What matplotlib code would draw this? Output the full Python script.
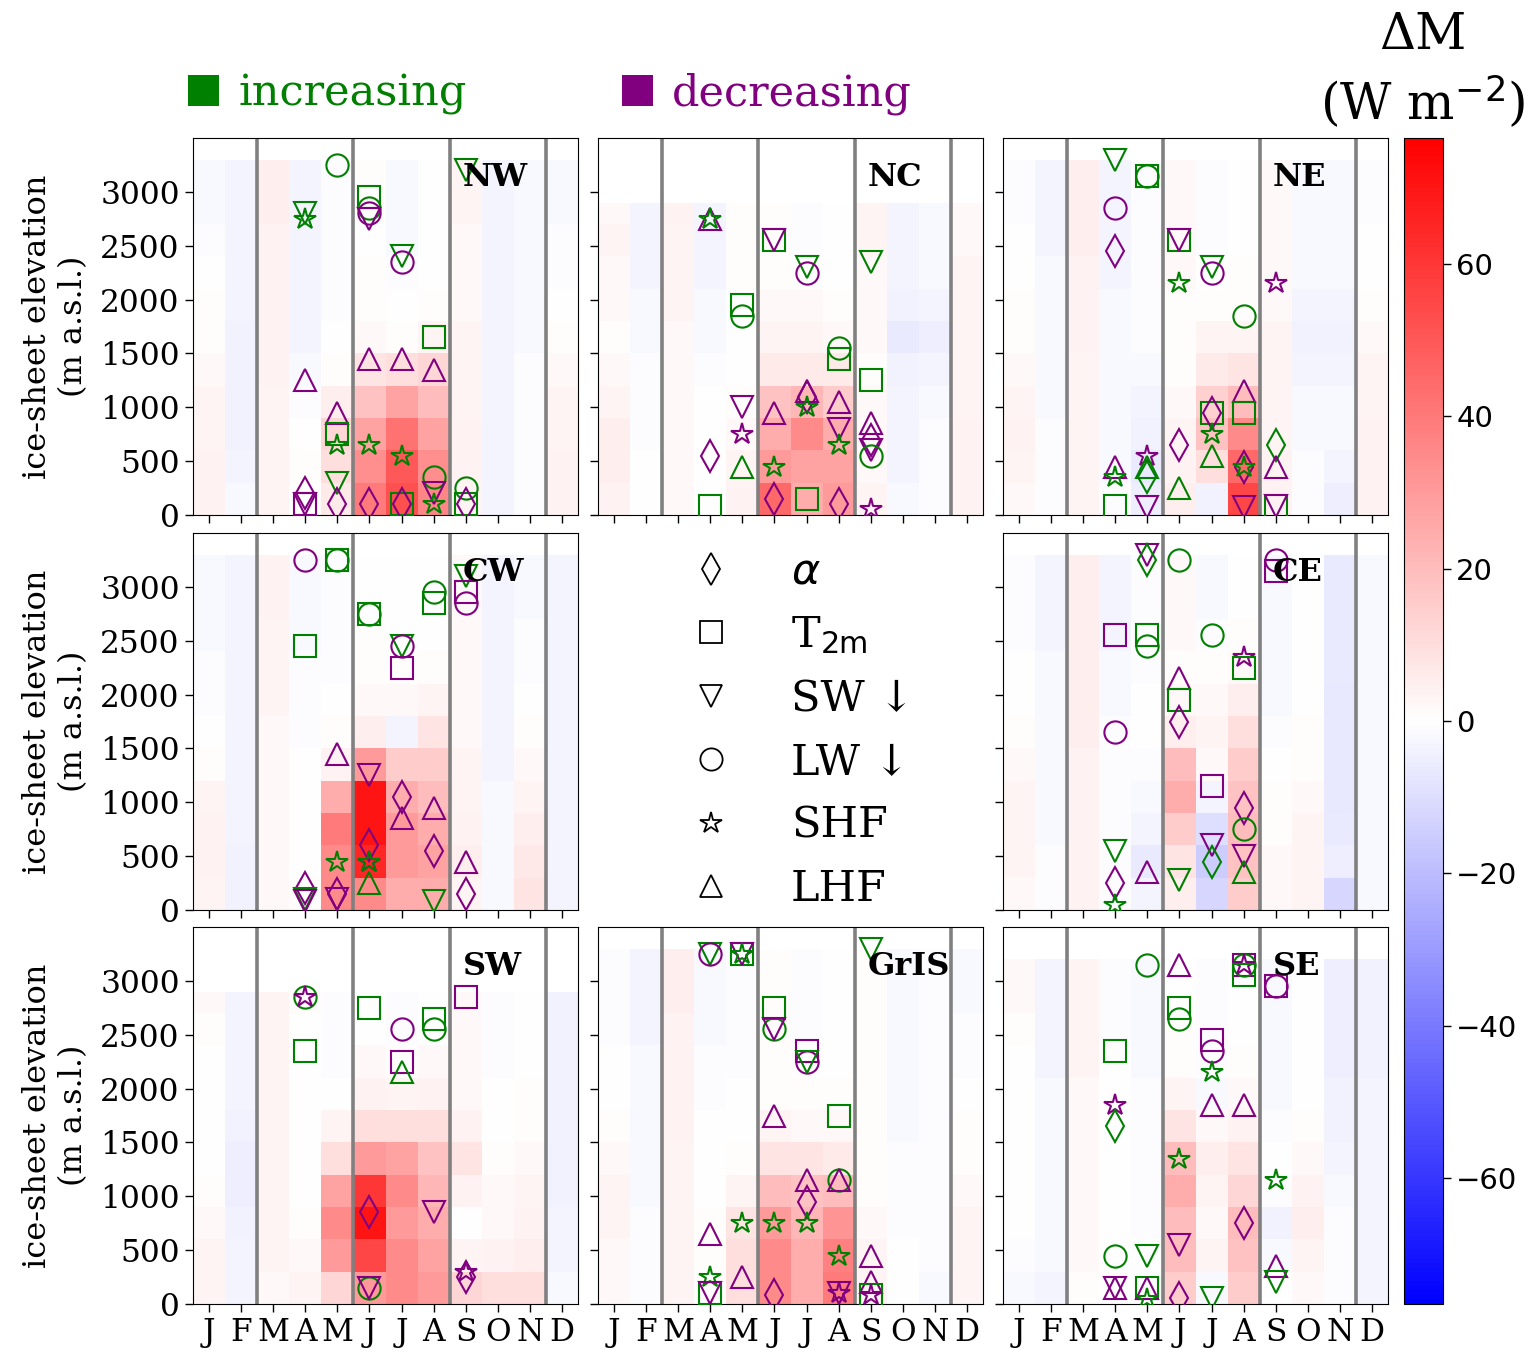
import numpy as np
import matplotlib
matplotlib.use("Agg")
import matplotlib.pyplot as plt
from matplotlib.lines import Line2D
from matplotlib.patches import Patch
from matplotlib.font_manager import FontProperties

plt.rcParams["font.family"] = ["DejaVu Serif", "DejaVu Sans"]
plt.rcParams["mathtext.fontset"] = "dejavusans"

months = ["J", "F", "M", "A", "M", "J", "J", "A", "S", "O", "N", "D"]
regions = ["NW", "NC", "NE", "CW", "CE", "SW", "GrIS", "SE"]
band_edges = [0, 300, 600, 900, 1200, 1500, 1800, 2100, 2400, 2700]
tops = [3300, 2900, 3300, 3300, 3300, 2900, 3300, 3200]

# Delta M per month (12 lists), each list = bands bottom -> top (W m-2)
nw_dm = [[4, 4, 3, 3, 2, 1, 1, 0, -1, -2], [-2, -3, -4, -4, -4, -4, -3, -3, -3, -3],
         [3, 3, 3, 3, 4, 4, 4, 4, 4, 5], [0, 1, 0, -1, -2, -3, -3, -3, -3, -3],
         [6, 10, 12, 5, 1, 0, -1, -1, -1, -1], [40, 34, 28, 18, 8, 2, 1, 1, 0, 1],
         [52, 50, 42, 28, 10, 1, 0, -1, -2, -2], [36, 34, 28, 20, 12, 3, 1, 0, 0, 0],
         [3, 4, 4, 3, 3, 3, 2, 2, 2, 3], [-3, -3, -3, -3, -3, -3, -3, -3, -3, -3],
         [-1, -1, -1, -1, -1, -2, -2, -2, -2, -2], [4, 4, 3, 3, 2, 1, 0, -1, -1, -2]]
nc_dm = [[4, 5, 5, 3, 2, 1, 2, 2, 3, 2], [0, 0, -1, -1, -1, -2, -2, -3, -3, -3],
         [2, 2, 2, 2, 2, 2, 3, 3, 3, 4], [0, 0, 0, 0, -1, -2, -2, -3, -3, -3],
         [4, 3, 2, 1, 0, 0, 0, 1, 1, 1], [45, 30, 25, 18, 6, 3, 2, 1, 1, 1],
         [25, 28, 35, 22, 6, 3, 2, 0, -1, -1], [30, 28, 25, 15, 6, 2, 1, 0, 0, 0],
         [3, 2, 2, 2, 1, 2, 2, 2, 3, 3], [-2, -3, -3, -3, -4, -6, -4, -3, -3, -3],
         [-1, -1, -1, -2, -3, -5, -3, -2, -2, -2], [4, 4, 4, 3, 3, 3, 3, 3, 2, 2]]
ne_dm = [[2, 3, 4, 3, 2, 1, 1, 0, 0, -1], [-1, -1, -1, -2, -2, -2, -2, -2, -3, -3],
         [3, 3, 3, 3, 3, 4, 4, 4, 5, 5], [-1, -2, -2, -2, -2, -2, -2, -3, -3, -3],
         [-5, -6, -4, -3, -2, -1, -1, -1, -1, -1], [5, 4, 3, 2, 1, 1, 1, 2, 2, 2],
         [-4, 10, 18, 14, 6, 3, 1, 0, -1, -1], [55, 45, 35, 20, 8, 3, 1, 1, 0, 0],
         [4, 4, 3, 3, 3, 3, 2, 2, 2, 2], [-1, -1, -2, -2, -3, -4, -3, -2, -2, -2],
         [-5, -3, -2, -2, -3, -4, -3, -2, -2, -2], [4, 4, 4, 3, 3, 2, 1, 0, 0, -1]]
cw_dm = [[3, 4, 4, 3, 1, 0, -1, -1, -2, -2], [-4, -4, -3, -3, -3, -3, -3, -3, -3, -3],
         [2, 2, 2, 2, 2, 2, 3, 3, 3, 4], [1, 0, 0, 0, 0, -1, -1, -1, -2, -2],
         [35, 35, 40, 25, 4, 1, 0, -1, -1, -1], [35, 65, 70, 70, 30, 5, 2, 1, 1, 0],
         [25, 30, 30, 25, 15, -3, 2, 1, 0, 0], [25, 28, 25, 20, 15, 8, 3, 1, 0, 0],
         [3, 5, 4, 3, 3, 2, 2, 2, 2, 2], [-2, -2, -2, -2, -3, -3, -3, -3, -3, -3],
         [8, 7, 5, 3, 2, 1, 0, -1, -1, -2], [-3, -3, -3, -3, -3, -3, -3, -3, -3, -3]]
ce_dm = [[2, 3, 3, 3, 2, 1, 0, 0, -1, -1], [-1, -1, -2, -2, -2, -2, -2, -2, -3, -3],
         [4, 4, 4, 4, 4, 5, 5, 5, 5, 5], [-1, -1, -1, -1, -1, -1, -2, -2, -3, -3],
         [-3, -6, -3, -2, -1, 0, 0, -1, -1, -1], [5, 8, 15, 25, 20, 5, 2, 1, 2, 2],
         [-12, -15, -10, -3, 2, 3, 2, 1, -1, -2], [15, 18, 20, 18, 15, 10, 5, 2, 1, 0],
         [2, 2, 1, 1, 0, -1, -2, -2, -2, -2], [3, 3, 3, 2, 1, 1, 0, 0, 0, 0],
         [-12, -5, -6, -7, -7, -7, -7, -6, -6, -6], [-2, -2, -2, -2, -2, -2, -2, -2, -2, -2]]
sw_dm = [[3, 3, 2, 1, 0, 0, 0, 0, 1, 2], [-3, -3, -4, -5, -5, -4, -3, -3, -3, -3],
         [2, 3, 3, 3, 3, 3, 3, 3, 3, 3], [3, 2, 1, 0, 0, 0, 0, 0, 0, 1],
         [12, 30, 35, 28, 10, 3, 0, -1, -1, -1], [30, 55, 70, 60, 30, 10, 4, 2, 0, 0],
         [35, 35, 30, 35, 28, 10, 3, 1, -1, -1], [30, 28, 25, 22, 18, 10, 4, 2, 0, 0],
         [12, 3, 0, 4, 8, 4, 2, 2, 2, 2], [10, 4, 2, 2, 1, 0, 0, -1, -1, -1],
         [10, 5, 4, 3, 2, 1, 1, 0, 0, 0], [-2, -3, -3, -4, -4, -4, -4, -4, -4, -4]]
gris_dm = [[2, 2, 3, 3, 2, 1, 0, 0, -1, -1], [-1, -1, -1, -2, -2, -2, -2, -2, -3, -3],
           [3, 3, 3, 3, 3, 4, 4, 4, 4, 5], [1, 1, 1, 0, 0, 0, -1, -1, -2, -2],
           [10, 10, 8, 3, 1, 0, 0, -1, -1, -1], [35, 35, 30, 20, 8, 3, 1, 1, 1, 1],
           [25, 25, 22, 18, 8, 2, 1, 0, -1, -1], [40, 38, 32, 20, 6, 2, 1, 0, 0, 0],
           [3, 3, 2, 1, 1, 1, 1, 1, 1, 1], [0, 0, -1, -1, -1, -2, -2, -2, -2, -2],
           [-2, -1, -1, -1, -1, -1, -1, -1, -1, -1], [3, 3, 3, 2, 1, 1, 0, -1, -1, -2]]
se_dm = [[-2, -1, 0, 0, 0, 0, 0, 0, 1, 2], [-3, -2, -2, -2, -2, -2, -2, -3, -3, -3],
         [1, 2, 2, 2, 2, 2, 2, 3, 3, 3], [0, 0, 0, 0, 0, 0, 0, 0, -1, -1],
         [0, 0, -1, -1, -1, -1, -1, -2, -2, -2], [15, 20, 20, 25, 20, 8, 3, 1, 1, 0],
         [-2, 3, 2, 3, 5, 2, -2, -1, -1, -1], [15, 18, 20, 12, 8, 4, 2, 1, 0, 0],
         [0, -2, -4, -1, 0, -1, -2, -2, -2, -2], [2, 3, 5, 4, 2, 1, 0, 0, 0, 0],
         [-1, -1, -1, -2, -3, -4, -4, -5, -5, -5], [-3, -3, -3, -3, -3, -3, -3, -4, -4, -4]]

# significant trends: (month, elevation, variable, sign)
nw_pts = [(4, 2800, "sw", "+"), (4, 2750, "shf", "+"), (4, 1250, "lhf", "-"),
          (4, 200, "a", "-"), (4, 100, "t", "-"), (4, 100, "sw", "-"),
          (5, 3250, "lw", "+"), (5, 950, "lhf", "-"), (5, 750, "t", "+"),
          (5, 650, "shf", "+"), (5, 300, "sw", "+"), (5, 100, "a", "-"),
          (6, 2950, "t", "+"), (6, 2850, "lw", "+"), (6, 2800, "lw", "-"),
          (6, 2750, "sw", "-"), (6, 1450, "lhf", "-"), (6, 650, "shf", "+"), (6, 100, "a", "-"),
          (7, 2400, "sw", "+"), (7, 2350, "lw", "-"), (7, 1450, "lhf", "-"),
          (7, 550, "shf", "+"), (7, 100, "t", "+"), (7, 100, "a", "-"),
          (8, 1650, "t", "+"), (8, 1350, "lhf", "-"), (8, 350, "lw", "+"),
          (8, 200, "sw", "-"), (8, 100, "shf", "+"),
          (9, 3200, "sw", "+"), (9, 250, "lw", "+"), (9, 100, "t", "+"), (9, 100, "a", "-")]
nc_pts = [(4, 2750, "lhf", "-"), (4, 2750, "shf", "+"), (4, 550, "a", "-"), (4, 80, "t", "+"),
          (5, 1950, "t", "+"), (5, 1850, "lw", "+"), (5, 1000, "sw", "-"),
          (5, 750, "shf", "-"), (5, 450, "lhf", "+"),
          (6, 2550, "t", "+"), (6, 2550, "sw", "-"), (6, 950, "lhf", "-"),
          (6, 450, "shf", "+"), (6, 150, "a", "-"),
          (7, 2300, "sw", "+"), (7, 2250, "lw", "-"), (7, 1150, "lhf", "-"),
          (7, 1100, "a", "-"), (7, 1000, "shf", "+"), (7, 150, "t", "+"),
          (8, 1550, "lw", "+"), (8, 1450, "t", "+"), (8, 1050, "lhf", "-"),
          (8, 800, "sw", "-"), (8, 650, "shf", "+"), (8, 100, "a", "-"),
          (9, 2350, "sw", "+"), (9, 1250, "t", "+"), (9, 850, "lhf", "-"),
          (9, 700, "a", "-"), (9, 600, "sw", "-"), (9, 550, "lw", "+"), (9, 60, "shf", "-")]
ne_pts = [(4, 3300, "sw", "+"), (4, 2850, "lw", "-"), (4, 2450, "a", "-"),
          (4, 450, "lhf", "-"), (4, 350, "shf", "+"), (4, 80, "t", "+"),
          (5, 3150, "t", "+"), (5, 3150, "lw", "+"), (5, 550, "shf", "-"),
          (5, 450, "lhf", "+"), (5, 350, "a", "+"), (5, 70, "sw", "-"),
          (6, 2550, "t", "+"), (6, 2550, "sw", "-"), (6, 2150, "shf", "+"),
          (6, 650, "a", "-"), (6, 250, "lhf", "+"),
          (7, 2300, "sw", "+"), (7, 2250, "lw", "-"), (7, 950, "t", "+"),
          (7, 950, "a", "-"), (7, 750, "shf", "+"), (7, 550, "lhf", "+"),
          (8, 1850, "lw", "+"), (8, 1150, "lhf", "-"), (8, 950, "t", "+"),
          (8, 450, "a", "-"), (8, 450, "shf", "+"), (8, 70, "sw", "-"),
          (9, 2150, "shf", "-"), (9, 650, "a", "+"), (9, 450, "lhf", "-"),
          (9, 80, "t", "+"), (9, 80, "sw", "-")]
cw_pts = [(4, 3250, "lw", "-"), (4, 2450, "t", "+"), (4, 200, "a", "-"),
          (4, 100, "sw", "+"), (4, 80, "sw", "-"),
          (5, 3250, "t", "+"), (5, 3250, "lw", "+"), (5, 1450, "lhf", "-"),
          (5, 450, "shf", "+"), (5, 150, "a", "-"), (5, 100, "sw", "-"),
          (6, 2750, "t", "+"), (6, 2750, "lw", "+"), (6, 1250, "sw", "-"),
          (6, 600, "a", "-"), (6, 450, "shf", "-"), (6, 450, "shf", "+"), (6, 250, "lhf", "+"),
          (7, 2450, "sw", "+"), (7, 2450, "lw", "-"), (7, 2250, "t", "-"),
          (7, 1050, "a", "-"), (7, 850, "lhf", "-"),
          (8, 2950, "lw", "+"), (8, 2850, "t", "+"), (8, 950, "lhf", "-"),
          (8, 550, "a", "-"), (8, 80, "sw", "+"),
          (9, 3100, "sw", "+"), (9, 2950, "t", "-"), (9, 2850, "lw", "-"),
          (9, 450, "lhf", "-"), (9, 150, "a", "-")]
ce_pts = [(4, 2550, "t", "-"), (4, 1650, "lw", "-"), (4, 550, "sw", "+"),
          (4, 250, "a", "-"), (4, 50, "shf", "+"),
          (5, 3300, "sw", "-"), (5, 3250, "a", "+"), (5, 2550, "t", "+"),
          (5, 2450, "lw", "+"), (5, 350, "lhf", "-"),
          (6, 3250, "lw", "+"), (6, 2150, "lhf", "-"), (6, 1950, "t", "+"),
          (6, 1750, "a", "-"), (6, 280, "sw", "+"),
          (7, 2550, "lw", "+"), (7, 1150, "t", "-"), (7, 600, "sw", "-"), (7, 450, "a", "+"),
          (8, 2350, "shf", "-"), (8, 2250, "t", "+"), (8, 950, "a", "-"),
          (8, 750, "lw", "+"), (8, 500, "sw", "-"), (8, 350, "lhf", "+"),
          (9, 3250, "lw", "-"), (9, 3150, "t", "-")]
sw_pts = [(4, 2850, "lw", "+"), (4, 2850, "shf", "-"), (4, 2350, "t", "+"),
          (6, 2750, "t", "+"), (6, 850, "a", "-"), (6, 150, "lw", "+"), (6, 150, "sw", "-"),
          (7, 2550, "lw", "-"), (7, 2250, "t", "-"), (7, 2150, "lhf", "+"),
          (8, 2650, "t", "+"), (8, 2550, "lw", "+"), (8, 850, "sw", "-"),
          (9, 2850, "t", "-"), (9, 300, "shf", "-"), (9, 250, "a", "-")]
gris_pts = [(4, 3250, "sw", "+"), (4, 3250, "lw", "-"), (4, 650, "lhf", "-"),
            (4, 250, "shf", "+"), (4, 100, "t", "+"), (4, 100, "sw", "-"),
            (5, 3250, "t", "+"), (5, 3250, "sw", "-"), (5, 3250, "shf", "+"),
            (5, 750, "shf", "+"), (5, 250, "lhf", "-"),
            (6, 2750, "t", "+"), (6, 2550, "lw", "+"), (6, 2550, "sw", "-"),
            (6, 1750, "lhf", "-"), (6, 750, "shf", "+"), (6, 80, "a", "-"),
            (7, 2350, "t", "-"), (7, 2250, "lw", "-"), (7, 2250, "sw", "+"),
            (7, 1150, "lhf", "-"), (7, 950, "a", "-"), (7, 750, "shf", "+"),
            (8, 1750, "t", "+"), (8, 1150, "lw", "+"), (8, 1150, "lhf", "-"),
            (8, 450, "shf", "+"), (8, 100, "shf", "-"), (8, 100, "sw", "-"),
            (9, 3300, "sw", "+"), (9, 450, "lhf", "-"), (9, 200, "lhf", "-"),
            (9, 80, "t", "+"), (9, 80, "shf", "-")]
se_pts = [(4, 2350, "t", "+"), (4, 1850, "shf", "-"), (4, 1650, "a", "+"),
          (4, 450, "lw", "+"), (4, 150, "sw", "-"), (4, 150, "lhf", "-"),
          (5, 3150, "lw", "+"), (5, 450, "sw", "+"), (5, 150, "t", "+"),
          (5, 150, "lhf", "-"), (5, 50, "shf", "+"),
          (6, 3150, "lhf", "-"), (6, 2750, "t", "+"), (6, 2650, "lw", "+"),
          (6, 1350, "shf", "+"), (6, 550, "sw", "-"), (6, 60, "a", "-"),
          (7, 2450, "t", "-"), (7, 2350, "lw", "-"), (7, 2150, "shf", "+"),
          (7, 1850, "lhf", "-"), (7, 60, "sw", "+"),
          (8, 3150, "t", "-"), (8, 3150, "lw", "+"), (8, 3150, "shf", "-"),
          (8, 3050, "t", "+"), (8, 1850, "lhf", "-"), (8, 750, "a", "-"),
          (9, 2950, "t", "-"), (9, 2950, "lw", "-"), (9, 1150, "shf", "+"),
          (9, 350, "lhf", "-"), (9, 200, "sw", "+")]

all_dm = [nw_dm, nc_dm, ne_dm, cw_dm, ce_dm, sw_dm, gris_dm, se_dm]
all_pts = [nw_pts, nc_pts, ne_pts, cw_pts, ce_pts, sw_pts, gris_pts, se_pts]

var_keys = ["a", "t", "sw", "lw", "shf", "lhf"]
var_markers = ["d", "s", "v", "o", "*", "^"]
var_labels = [r"$\alpha$", r"T$_{\rm 2m}$", "SW ↓", "LW ↓", "SHF", "LHF"]
sign_colors = {"+": "green", "-": "purple"}

vlim = 76.5
cmap = plt.get_cmap("bwr")

fig = plt.figure(figsize=(15.34, 13.5), dpi=100)
W, H = 1534, 1350
col_x = [193, 598, 1003]
row_y = [515, 910, 1304]   # bottom pixel of each row
pw, ph = 385, 377

slots = [(0, 0), (0, 1), (0, 2), (1, 0), (1, 2), (2, 0), (2, 1), (2, 2)]
x_edges = np.arange(13) - 0.5

for k, (r, c) in enumerate(slots):
    ax = fig.add_axes([col_x[c] / W, 1 - row_y[r] / H, pw / W, ph / H])
    y_edges = band_edges + [tops[k]]
    dm = np.array(all_dm[k]).T
    mesh = ax.pcolormesh(x_edges, y_edges, dm, cmap=cmap, vmin=-vlim, vmax=vlim)
    for xl in [1.5, 4.5, 7.5, 10.5]:
        ax.axvline(xl, color="gray", lw=2.6, zorder=2)
    for (m, z, v, s) in all_pts[k]:
        ax.plot(m - 1, z, ls="none", marker=var_markers[var_keys.index(v)],
                ms=16, mfc="none", mec=sign_colors[s], mew=1.5, zorder=3)
    ax.text(0.70, 0.894, regions[k], transform=ax.transAxes, ha="left", va="center",
            fontsize=23, fontweight="bold", zorder=5)
    ax.set_xlim(-0.5, 11.5)
    ax.set_ylim(0, 3500)
    ax.set_xticks(range(12))
    ax.set_yticks(range(0, 3001, 500))
    ax.tick_params(direction="out", length=6, width=1)
    if r == 2:
        ax.set_xticklabels(months, fontsize=22.5)
    else:
        ax.set_xticklabels([])
    if c == 0:
        ax.tick_params(axis="y", labelsize=22.5)
        ax.set_ylabel("ice-sheet elevation\n(m a.s.l.)", fontsize=23, labelpad=8)
    else:
        ax.set_yticklabels([])

# marker key in the centre slot
ax_key = fig.add_axes([col_x[1] / W, 1 - row_y[1] / H, pw / W, ph / H])
ax_key.axis("off")
key_handles = [Line2D([], [], ls="none", marker=mk, ms=16, mfc="none", mec="black", mew=1.3)
               for mk in var_markers]
ax_key.legend(key_handles, var_labels, loc="center", bbox_to_anchor=(0.53, 0.476),
              frameon=False, fontsize=31, handlelength=1.0, handletextpad=1.35,
              labelspacing=0.5, borderpad=0)

# increasing / decreasing legend
fp = FontProperties(family="DejaVu Serif", size=31)
fig.legend([Patch(fc="green"), Patch(fc="purple")], ["increasing", "decreasing"],
           loc="center left", bbox_to_anchor=(188 / W, 1 - 94 / H), ncol=2,
           frameon=False, prop=fp, handlelength=0.72, handleheight=0.72,
           handletextpad=0.45, columnspacing=3.6, borderpad=0, borderaxespad=0,
           labelcolor=["green", "purple"])

# colorbar
cax = fig.add_axes([1404 / W, 1 - 1304 / H, 39 / W, 1166 / H])
cb = fig.colorbar(mesh, cax=cax, ticks=range(-60, 61, 20))
cb.ax.tick_params(labelsize=21, length=6, width=1)
for t in cb.ax.get_yticklabels():
    t.set_fontfamily("DejaVu Sans")
fig.text(1423 / W, 1 - 71 / H, "ΔM\n(W m$^{-2}$)", ha="center", va="center",
         fontsize=36, linespacing=1.3)

fig.savefig("out.png", dpi=100)
